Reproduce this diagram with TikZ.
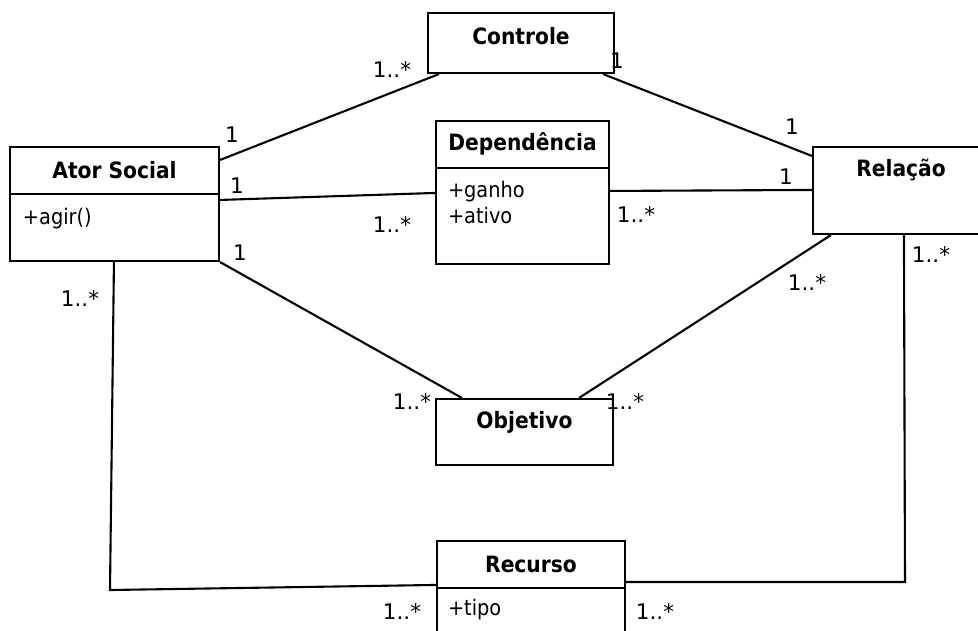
\documentclass[tikz,border=0pt]{standalone}
\usepackage{fontspec}
\setmainfont{DejaVu Sans}
\newfontfamily\condfont{DejaVu Sans Condensed}
\usetikzlibrary{positioning}
\begin{document}
\begin{tikzpicture}[x=1pt, y=-1pt, line width=2.1pt,
		cls/.style={draw, rectangle, inner sep=0pt},
		title/.style={inner sep=0pt, minimum height=46pt, font=\condfont\bfseries\fontsize{22.5}{26}\selectfont},
		attr/.style={inner sep=0pt, anchor=base west, font=\condfont\fontsize{21.5}{26}\selectfont},
		mult/.style={inner sep=0pt, font=\fontsize{21.5}{24}\selectfont}]
		
		\useasboundingbox (0,0) rectangle (978,630);
		
		% classes
		\node[cls, minimum width=186, minimum height=60] (ctrl) at (521,43) {};
		\node[title, below=0pt of ctrl.north] (ctrlt) {Controle};
		
		\node[cls, minimum width=209, minimum height=114] (ator) at (114.5,204) {};
		\node[title, minimum width=209, below=0pt of ator.north] (atort) {Ator Social};
		\draw (atort.south west) -- (atort.south east);
		\node[attr] (atora) at ([xshift=13pt, yshift=-79pt]ator.north west) {+agir()};
		
		\node[cls, minimum width=173, minimum height=143] (dep) at (522.5,192.5) {};
		\node[title, minimum width=173, below=0pt of dep.north] (dept) {Dependência};
		\draw (dept.south west) -- (dept.south east);
		\node[attr] (dep1) at ([xshift=12pt, yshift=-78pt]dep.north west) {+ganho};
		\node[attr] (dep2) at ([xshift=12pt, yshift=-104pt]dep.north west) {+ativo};
		
		\node[cls, minimum width=176, minimum height=87] (rel) at (901,190.5) {};
		\node[title, below=0pt of rel.north] (relt) {Relação};
		
		\node[cls, minimum width=177, minimum height=66] (obj) at (524.5,432) {};
		\node[title, below=0pt of obj.north] (objt) {Objetivo};
		
		\node[cls, minimum width=188, minimum height=119] (rec) at (531,600.5) {};
		\node[title, minimum width=188, below=0pt of rec.north] (rect) {Recurso};
		\draw (rect.south west) -- (rect.south east);
		\node[attr] (reca) at ([xshift=11pt, yshift=-76pt]rec.north west) {+tipo};
		
		% associations
		\coordinate (bl) at (110,590);
		\coordinate (br) at (905,582);
		
		\draw[-] ([yshift=-14pt]ator.north east) -- ([xshift=12pt]ctrl.south west);
		\draw[-] ([xshift=-12pt]ctrl.south east) -- ([yshift=-10pt]rel.north west);
		\draw[-] ([yshift=-54pt]ator.north east) -- ([yshift=-73pt]dep.north west);
		\draw[-] ([yshift=-71pt]dep.north east) -- ([yshift=-44pt]rel.north west);
		\draw[-] (ator.south east) -- ([xshift=27pt]obj.north west);
		\draw[-] ([xshift=19pt]rel.south west) -- ([xshift=-35pt]obj.north east);
		\draw[-] ([xshift=105pt]ator.south west) -- (bl) -- ([yshift=-45pt]rec.north west);
		\draw[-] ([xshift=92pt]rel.south west) -- (br) -- ([yshift=-42pt]rec.north east);
		
		% multiplicities
		\node[mult] (m1) at (392,70) {1..*};
		\node[mult] (m2) at (617,61) {1};
		\node[mult] (m3) at (232,135) {1};
		\node[mult] (m4) at (792,127) {1};
		\node[mult] (m5) at (237,186) {1};
		\node[mult] (m6) at (392,225) {1..*};
		\node[mult] (m7) at (636,215) {1..*};
		\node[mult] (m8) at (786,177) {1};
		\node[mult] (m9) at (240,253) {1};
		\node[mult] (m10) at (80,299) {1..*};
		\node[mult] (m11) at (807,283) {1..*};
		\node[mult] (m12) at (931,255) {1..*};
		\node[mult] (m13) at (412,402) {1..*};
		\node[mult] (m14) at (625,402) {1..*};
		\node[mult] (m15) at (402,612) {1..*};
		\node[mult] (m16) at (655,612) {1..*};
	\end{tikzpicture}
\end{document}
